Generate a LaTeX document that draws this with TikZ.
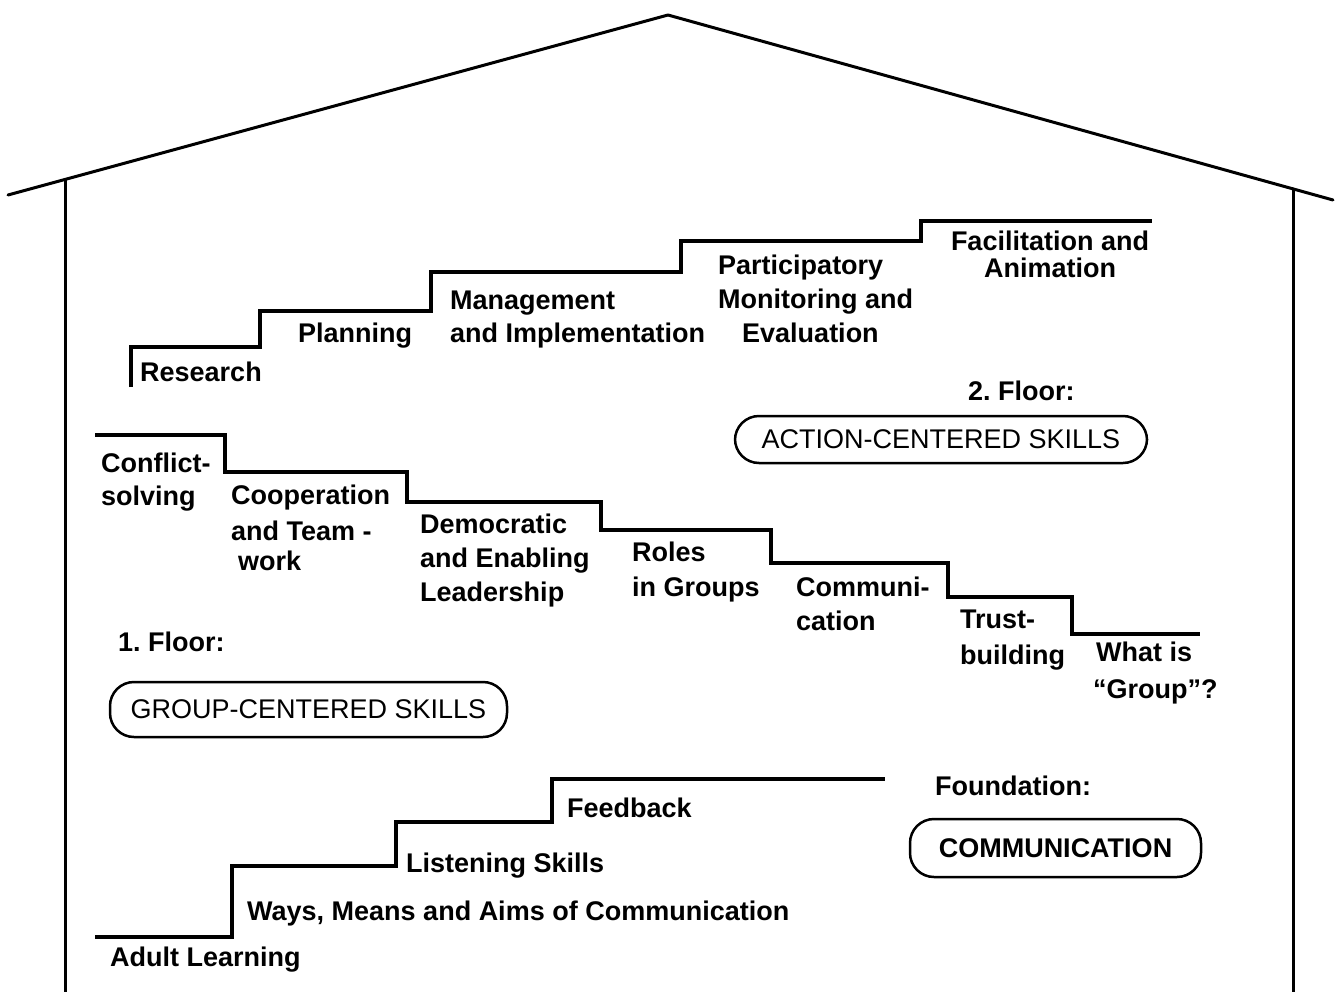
\documentclass[tikz,border=0pt]{standalone}
\usepackage{fontspec}
\setmainfont{Liberation Sans}
\frenchspacing
\begin{document}
\begin{tikzpicture}[x=1pt,y=-1pt,
  wall/.style={line width=3pt, line cap=round, line join=round},
  stairs/.style={line width=3.5pt, line join=miter},
  lbl/.style={anchor=base west, inner sep=0pt,
    font=\fontsize{27}{34}\selectfont\bfseries, align=left},
  oval/.style={draw, line width=2.5pt, rounded corners=24pt, inner sep=0pt,
    font=\fontsize{27}{32}\selectfont}]
\useasboundingbox (0,0) rectangle (1339,991);

% roof and walls
\coordinate (roofL) at (8,195);
\coordinate (peak) at (668,15);
\coordinate (roofR) at (1333,200);
\coordinate (eaveL) at (65,179.5);
\coordinate (eaveR) at (1293,189);
\coordinate (footL) at (65,995);
\coordinate (footR) at (1293,995);
\draw[wall] (roofL) -- (peak) -- (roofR);
\draw[wall] (eaveL) -- (footL);
\draw[wall] (eaveR) -- (footR);

% 2nd floor: action-centered steps (base = last line)
\draw[stairs] (131,387) |- (260,347) |- (431,311) |- (681,272) |- (921,241) |- (1152,221);
\node[lbl] (research) at (140,381) {Research};
\node[lbl] (planning) at (298,342) {Planning};
\node[lbl] (mgmt) at (450,342) {Management\\[-1pt]and Implementation};
\node[lbl] (pme) at (718,342) {Participatory\\Monitoring and\\\hspace*{24pt}Evaluation};
\node[lbl, align=center, anchor=base] (facil) at (1050,277) {Facilitation and\\[-7pt]Animation};
\node[lbl] (floor2) at (968,400) {2. Floor:};
\node[oval, minimum width=412pt, minimum height=47pt] (action) at (941,439.5) {ACTION-CENTERED SKILLS};

% 1st floor: group-centered steps
\draw[stairs] (95,435) -| (225,472) -| (407,502) -| (601,530) -| (771,563) -| (948,597) -| (1072,634) -- (1200,634);
\node[lbl] (conflict) at (101,505) {Conflict-\\[-1pt]solving};
\node[lbl] (coop) at (231,570) {Cooperation\\[2pt]and Team -\\[-4pt]\hspace*{7pt}work};
\node[lbl] (democ) at (420,601) {Democratic\\and Enabling\\Leadership};
\node[lbl] (roles) at (632,596) {Roles\\[1pt]in Groups};
\node[lbl] (commun) at (796,630) {Communi-\\cation};
\node[lbl] (trust) at (960,664) {Trust-\\[2pt]building};
\node[lbl] (whatis) at (1096,698) {What is\\[3pt]\hspace*{-3pt}``Group''?};
\node[lbl] (floor1) at (118,651) {1. Floor:};
\node[oval, minimum width=397pt, minimum height=55pt] (group) at (308.5,709.5) {GROUP-CENTERED SKILLS};

% foundation steps
\draw[stairs] (95,937) -| (232,866) -| (396,822) -| (552,779) -- (885,779);
\node[lbl] (adult) at (110,966) {Adult Learning};
\node[lbl] (ways) at (247,920) {Ways, Means and Aims of Communication};
\node[lbl] (listen) at (406,872) {Listening Skills};
\node[lbl] (feedback) at (567,817) {Feedback};
\node[lbl] (found) at (935,795) {Foundation:};
\node[oval, minimum width=291pt, minimum height=58pt, font=\fontsize{27}{32}\selectfont\bfseries] (comm) at (1055.5,848) {COMMUNICATION};
\end{tikzpicture}
\end{document}
